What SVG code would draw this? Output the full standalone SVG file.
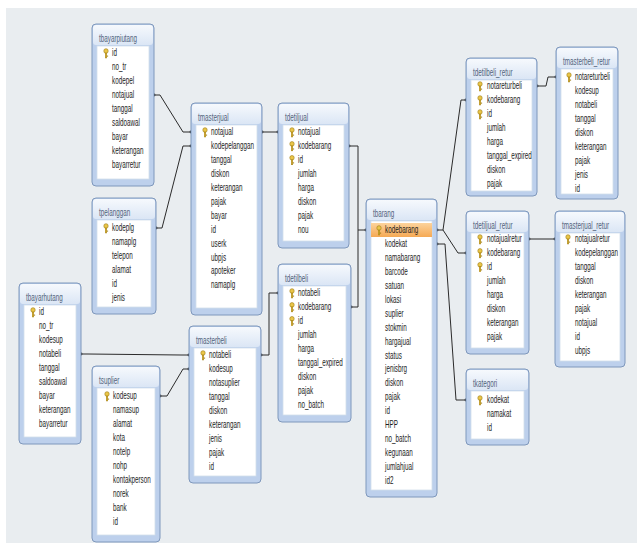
<svg xmlns="http://www.w3.org/2000/svg" xmlns:xlink="http://www.w3.org/1999/xlink" width="637" height="545" viewBox="0 0 637 545">
<style>
.fr{fill:#bdd0ec;stroke:#7f98bc;stroke-width:1}
.tb{fill:url(#tg)}
.pn{fill:#ffffff;stroke:#d3deec;stroke-width:0.8}
.tt{font-family:"Liberation Sans",Arial,sans-serif;font-size:10px;fill:#52637b}
.rt{font-family:"Liberation Sans",Arial,sans-serif;font-size:10px;fill:#1c1c1c}
.cn{fill:none;stroke:#2b2b2b;stroke-width:1}
.hl{fill:url(#og)}
</style>
<defs>
<linearGradient id="tg" x1="0" y1="0" x2="0" y2="1">
<stop offset="0" stop-color="#f6f9fd"/>
<stop offset="1" stop-color="#dbe6f5"/>
</linearGradient>
<linearGradient id="og" x1="0" y1="0" x2="0" y2="1">
<stop offset="0" stop-color="#fcd39c"/>
<stop offset="1" stop-color="#f5a954"/>
</linearGradient>
<g id="key">
<ellipse cx="0" cy="-2" rx="2.2" ry="2.3" fill="#eac649" stroke="#9c7b12" stroke-width="0.6"/>
<rect x="-0.8" y="0" width="1.6" height="5" fill="#d6aa25" stroke="#9c7b12" stroke-width="0.4"/>
<rect x="0.8" y="2.6" width="1.3" height="1" fill="#9c7b12"/>
</g>
<marker id="m" markerWidth="4" markerHeight="4" refX="2" refY="2" markerUnits="userSpaceOnUse">
<circle cx="2" cy="2" r="1.4" fill="#222"/>
</marker>
</defs>
<rect x="0" y="0" width="637" height="545" fill="#ffffff"/>
<rect x="6" y="8" width="631" height="535" fill="#e9edf0"/>

<g id="connectors">
<path class="cn" marker-start="url(#m)" marker-end="url(#m)" d="M154,95 H160 L183,132 H191"/>
<path class="cn" marker-start="url(#m)" marker-end="url(#m)" d="M156,228 H162 L183,146 H191"/>
<path class="cn" marker-start="url(#m)" marker-end="url(#m)" d="M262,132 H278"/>
<path class="cn" marker-start="url(#m)" marker-end="url(#m)" d="M349,146 H358 V230 H366"/>
<path class="cn" marker-start="url(#m)" d="M351,307 H358 V230"/>
<path class="cn" marker-start="url(#m)" marker-end="url(#m)" d="M81,354 H88 L181,355 H189"/>
<path class="cn" marker-start="url(#m)" marker-end="url(#m)" d="M160,396 H167 L183,369 H189"/>
<path class="cn" marker-start="url(#m)" marker-end="url(#m)" d="M261,355 H269 V293 H278"/>
<path class="cn" marker-start="url(#m)" marker-end="url(#m)" d="M437,230 H443 L461,100 H466"/>
<path class="cn" marker-end="url(#m)" d="M443,230 L458,253 H466"/>
<path class="cn" marker-start="url(#m)" marker-end="url(#m)" d="M437,244 H445 L456,400 H466"/>
<path class="cn" marker-start="url(#m)" marker-end="url(#m)" d="M537,86 H546 L548,77 H556"/>
<path class="cn" marker-start="url(#m)" marker-end="url(#m)" d="M529,239 H555"/>
</g>

<g id="tbayarpiutang">
<rect class="fr" x="92" y="24" width="62" height="162" rx="4"/>
<rect class="tb" x="93" y="25" width="60" height="20" rx="3"/>
<rect class="pn" x="97" y="46" width="52" height="133"/>
<text class="tt" transform="matrix(0.63,0,0,1,99,41.5)">tbayarpiutang</text>
<use href="#key" x="106" y="53"/>
<g class="rt" transform="matrix(0.63,0,0,1,112,0)">
<text y="56.5">id</text><text y="70.4">no_tr</text><text y="84.3">kodepel</text><text y="98.2">notajual</text><text y="112.1">tanggal</text><text y="126">saldoawal</text><text y="139.9">bayar</text><text y="153.8">keterangan</text><text y="167.7">bayarretur</text>
</g>
</g>

<g id="tmasterjual">
<rect class="fr" x="191" y="103" width="71" height="212" rx="4"/>
<rect class="tb" x="192" y="104" width="69" height="20" rx="3"/>
<rect class="pn" x="196" y="125" width="61" height="183"/>
<text class="tt" transform="matrix(0.63,0,0,1,198,120.5)">tmasterjual</text>
<use href="#key" x="205" y="132"/>
<g class="rt" transform="matrix(0.63,0,0,1,211,0)">
<text y="135.5">notajual</text><text y="149.4">kodepelanggan</text><text y="163.3">tanggal</text><text y="177.2">diskon</text><text y="191.1">keterangan</text><text y="205">pajak</text><text y="218.9">bayar</text><text y="232.8">id</text><text y="246.7">userk</text><text y="260.6">ubpjs</text><text y="274.5">apoteker</text><text y="288.4">namaplg</text>
</g>
</g>

<g id="tdetiljual">
<rect class="fr" x="278" y="103" width="71" height="145" rx="4"/>
<rect class="tb" x="279" y="104" width="69" height="20" rx="3"/>
<rect class="pn" x="283" y="125" width="61" height="116"/>
<text class="tt" transform="matrix(0.63,0,0,1,285,120.5)">tdetiljual</text>
<use href="#key" x="292" y="132"/>
<use href="#key" x="292" y="145.9"/>
<use href="#key" x="292" y="159.8"/>
<g class="rt" transform="matrix(0.63,0,0,1,298,0)">
<text y="135.5">notajual</text><text y="149.4">kodebarang</text><text y="163.3">id</text><text y="177.2">jumlah</text><text y="191.1">harga</text><text y="205">diskon</text><text y="218.9">pajak</text><text y="232.8">nou</text>
</g>
</g>

<g id="tpelanggan">
<rect class="fr" x="92" y="198" width="64" height="116" rx="4"/>
<rect class="tb" x="93" y="199" width="62" height="20" rx="3"/>
<rect class="pn" x="97" y="220" width="54" height="87"/>
<text class="tt" transform="matrix(0.63,0,0,1,99,215.5)">tpelanggan</text>
<use href="#key" x="106" y="228"/>
<g class="rt" transform="matrix(0.63,0,0,1,112,0)">
<text y="231.5">kodeplg</text><text y="245.4">namaplg</text><text y="259.3">telepon</text><text y="273.2">alamat</text><text y="287.1">id</text><text y="301">jenis</text>
</g>
</g>

<g id="tbayarhutang">
<rect class="fr" x="19" y="283" width="62" height="161" rx="4"/>
<rect class="tb" x="20" y="284" width="60" height="20" rx="3"/>
<rect class="pn" x="24" y="305" width="52" height="132"/>
<text class="tt" transform="matrix(0.63,0,0,1,26,300.5)">tbayarhutang</text>
<use href="#key" x="33" y="312"/>
<g class="rt" transform="matrix(0.63,0,0,1,39,0)">
<text y="315.5">id</text><text y="329.4">no_tr</text><text y="343.3">kodesup</text><text y="357.2">notabeli</text><text y="371.1">tanggal</text><text y="385">saldoawal</text><text y="398.9">bayar</text><text y="412.8">keterangan</text><text y="426.7">bayarretur</text>
</g>
</g>

<g id="tsuplier">
<rect class="fr" x="92" y="366" width="68" height="176" rx="4"/>
<rect class="tb" x="93" y="367" width="66" height="20" rx="3"/>
<rect class="pn" x="97" y="388" width="58" height="147"/>
<text class="tt" transform="matrix(0.63,0,0,1,99,383.5)">tsuplier</text>
<use href="#key" x="107" y="396"/>
<g class="rt" transform="matrix(0.63,0,0,1,113,0)">
<text y="399.5">kodesup</text><text y="413.4">namasup</text><text y="427.3">alamat</text><text y="441.2">kota</text><text y="455.1">notelp</text><text y="469">nohp</text><text y="482.9">kontakperson</text><text y="496.8">norek</text><text y="510.7">bank</text><text y="524.6">id</text>
</g>
</g>

<g id="tmasterbeli">
<rect class="fr" x="189" y="326" width="72" height="157" rx="4"/>
<rect class="tb" x="190" y="327" width="70" height="20" rx="3"/>
<rect class="pn" x="194" y="348" width="62" height="128"/>
<text class="tt" transform="matrix(0.63,0,0,1,196,343.5)">tmasterbeli</text>
<use href="#key" x="203" y="355"/>
<g class="rt" transform="matrix(0.63,0,0,1,209,0)">
<text y="358.5">notabeli</text><text y="372.4">kodesup</text><text y="386.3">notasuplier</text><text y="400.2">tanggal</text><text y="414.1">diskon</text><text y="428">keterangan</text><text y="441.9">jenis</text><text y="455.8">pajak</text><text y="469.7">id</text>
</g>
</g>

<g id="tdetilbeli">
<rect class="fr" x="278" y="264" width="73" height="158" rx="4"/>
<rect class="tb" x="279" y="265" width="71" height="20" rx="3"/>
<rect class="pn" x="283" y="286" width="63" height="129"/>
<text class="tt" transform="matrix(0.63,0,0,1,285,281.5)">tdetilbeli</text>
<use href="#key" x="292" y="293"/>
<use href="#key" x="292" y="306.9"/>
<use href="#key" x="292" y="320.8"/>
<g class="rt" transform="matrix(0.63,0,0,1,298,0)">
<text y="296.5">notabeli</text><text y="310.4">kodebarang</text><text y="324.3">id</text><text y="338.2">jumlah</text><text y="352.1">harga</text><text y="366">tanggal_expired</text><text y="379.9">diskon</text><text y="393.8">pajak</text><text y="407.7">no_batch</text>
</g>
</g>

<g id="tbarang">
<rect class="fr" x="366" y="199" width="71" height="298" rx="4"/>
<rect class="tb" x="367" y="200" width="69" height="20" rx="3"/>
<rect class="pn" x="371" y="221" width="61" height="269"/>
<rect class="hl" x="371" y="223" width="61" height="14"/>
<text class="tt" transform="matrix(0.63,0,0,1,373,216.5)">tbarang</text>
<use href="#key" x="379" y="230"/>
<g class="rt" transform="matrix(0.63,0,0,1,385,0)">
<text y="233.5">kodebarang</text><text y="247.4">kodekat</text><text y="261.3">namabarang</text><text y="275.2">barcode</text><text y="289.1">satuan</text><text y="303">lokasi</text><text y="316.9">suplier</text><text y="330.8">stokmin</text><text y="344.7">hargajual</text><text y="358.6">status</text><text y="372.5">jenisbrg</text><text y="386.4">diskon</text><text y="400.3">pajak</text><text y="414.2">id</text><text y="428.1">HPP</text><text y="442">no_batch</text><text y="455.9">kegunaan</text><text y="469.8">jumlahjual</text><text y="483.7">id2</text>
</g>
</g>

<g id="tdetilbeli_retur">
<rect class="fr" x="466" y="58" width="71" height="138" rx="4"/>
<rect class="tb" x="467" y="59" width="69" height="20" rx="3"/>
<rect class="pn" x="471" y="80" width="61" height="111"/>
<text class="tt" transform="matrix(0.63,0,0,1,473,75.5)">tdetilbeli_retur</text>
<use href="#key" x="480" y="86"/>
<use href="#key" x="480" y="100"/>
<use href="#key" x="480" y="114"/>
<g class="rt" transform="matrix(0.63,0,0,1,487,0)">
<text y="89.5">notareturbeli</text><text y="103.5">kodebarang</text><text y="117.5">id</text><text y="131.5">jumlah</text><text y="145.5">harga</text><text y="159.5">tanggal_expired</text><text y="173.5">diskon</text><text y="187.5">pajak</text>
</g>
</g>

<g id="tmasterbeli_retur">
<rect class="fr" x="556" y="47" width="62" height="152" rx="4"/>
<rect class="tb" x="557" y="48" width="60" height="20" rx="3"/>
<rect class="pn" x="561" y="69" width="52" height="125"/>
<text class="tt" transform="matrix(0.63,0,0,1,563,64.5)">tmasterbeli_retur</text>
<use href="#key" x="569" y="77"/>
<g class="rt" transform="matrix(0.63,0,0,1,575,0)">
<text y="80.5">notareturbeli</text><text y="94.4">kodesup</text><text y="108.3">notabeli</text><text y="122.2">tanggal</text><text y="136.1">diskon</text><text y="150">keterangan</text><text y="163.9">pajak</text><text y="177.8">jenis</text><text y="191.7">id</text>
</g>
</g>

<g id="tdetiljual_retur">
<rect class="fr" x="466" y="211" width="63" height="143" rx="4"/>
<rect class="tb" x="467" y="212" width="61" height="20" rx="3"/>
<rect class="pn" x="471" y="233" width="53" height="115"/>
<text class="tt" transform="matrix(0.63,0,0,1,473,228.5)">tdetiljual_retur</text>
<use href="#key" x="480" y="239"/>
<use href="#key" x="480" y="252.9"/>
<use href="#key" x="480" y="266.8"/>
<g class="rt" transform="matrix(0.63,0,0,1,487,0)">
<text y="242.5">notajualretur</text><text y="256.4">kodebarang</text><text y="270.3">id</text><text y="284.2">jumlah</text><text y="298.1">harga</text><text y="312">diskon</text><text y="325.9">keterangan</text><text y="339.8">pajak</text>
</g>
</g>

<g id="tmasterjual_retur">
<rect class="fr" x="555" y="211" width="70" height="156" rx="4"/>
<rect class="tb" x="556" y="212" width="68" height="20" rx="3"/>
<rect class="pn" x="560" y="233" width="60" height="128"/>
<text class="tt" transform="matrix(0.63,0,0,1,562,228.5)">tmasterjual_retur</text>
<use href="#key" x="568" y="239"/>
<g class="rt" transform="matrix(0.63,0,0,1,575,0)">
<text y="242.5">notajualretur</text><text y="256.4">kodepelanggan</text><text y="270.3">tanggal</text><text y="284.2">diskon</text><text y="298.1">keterangan</text><text y="312">pajak</text><text y="325.9">notajual</text><text y="339.8">id</text><text y="353.7">ubpjs</text>
</g>
</g>

<g id="tkategori">
<rect class="fr" x="466" y="369" width="63" height="76" rx="4"/>
<rect class="tb" x="467" y="370" width="61" height="20" rx="3"/>
<rect class="pn" x="471" y="391" width="53" height="48"/>
<text class="tt" transform="matrix(0.63,0,0,1,473,386.5)">tkategori</text>
<use href="#key" x="480" y="400"/>
<g class="rt" transform="matrix(0.63,0,0,1,487,0)">
<text y="403.5">kodekat</text><text y="417.4">namakat</text><text y="431.3">id</text>
</g>
</g>
</svg>
